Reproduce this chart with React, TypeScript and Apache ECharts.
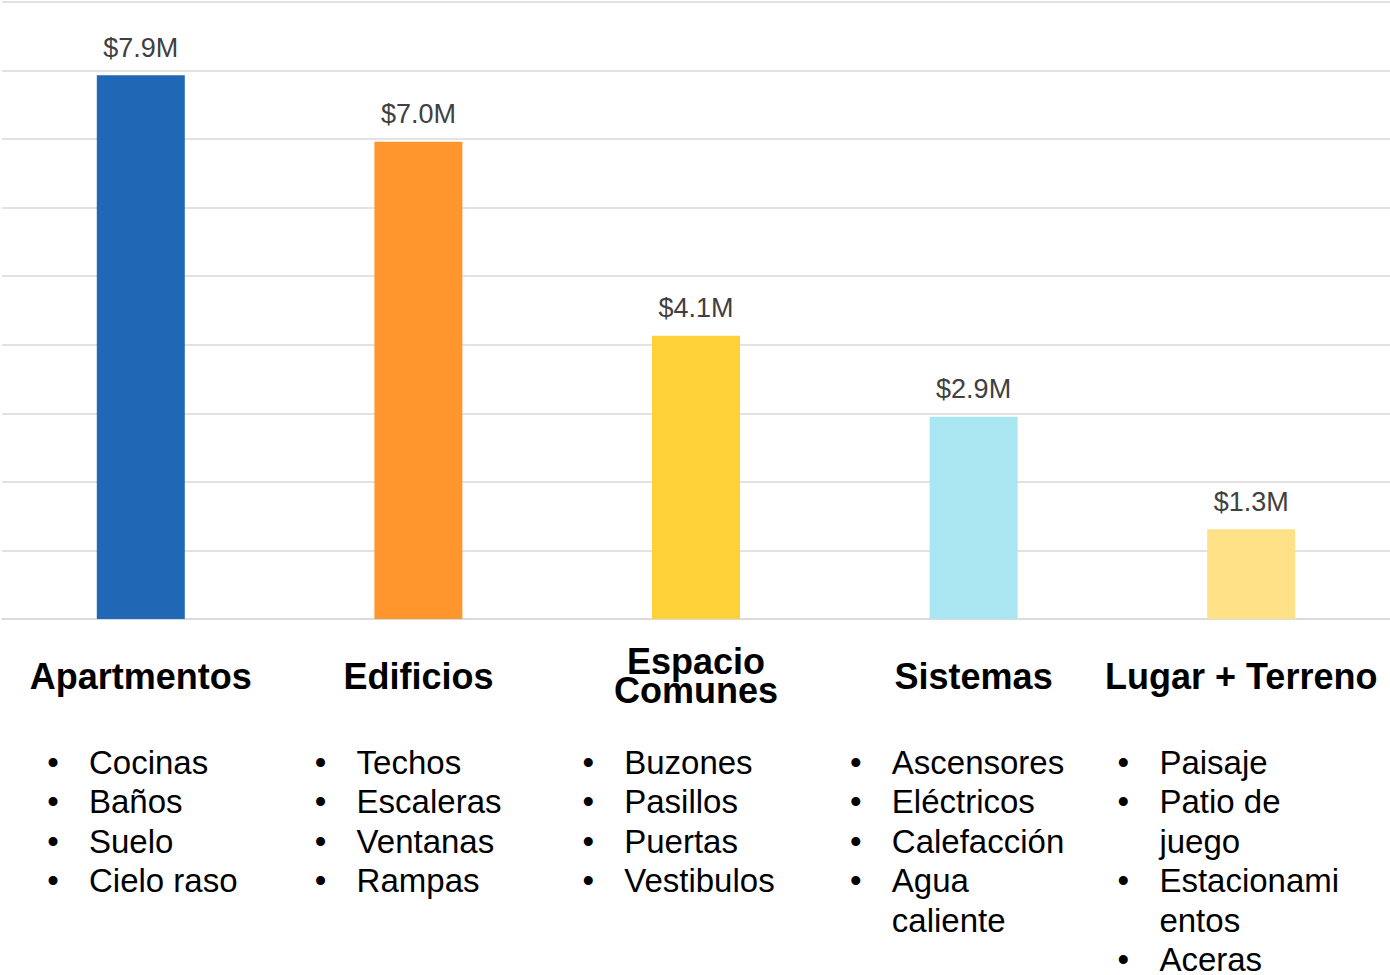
import React, { useEffect, useRef } from "react";
import * as echarts from "echarts";

const categories = ["Apartmentos", "Edificios", "Espacio Comunes", "Sistemas", "Lugar + Terreno"];
const values = [7.93, 6.96, 4.13, 2.95, 1.31];
const valueLabels = ["$7.9M", "$7.0M", "$4.1M", "$2.9M", "$1.3M"];
const barColors = ["#2068B6", "#FF962D", "#FFD23A", "#AAE6F1", "#FFE187"];
const bulletLists = [
  ["Cocinas", "Baños", "Suelo", "Cielo raso"],
  ["Techos", "Escaleras", "Ventanas", "Rampas"],
  ["Buzones", "Pasillos", "Puertas", "Vestibulos"],
  ["Ascensores", "Eléctricos", "Calefacción", "Agua\ncaliente"],
  ["Paisaje", "Patio de\njuego", "Estacionami\nentos", "Aceras"],
];

const FONT = "'Liberation Sans', Arial, Helvetica, sans-serif";

export default function App() {
  const ref = useRef<HTMLDivElement>(null);
  useEffect(() => {
    if (!ref.current) return;
    const chart = echarts.init(ref.current, undefined, { renderer: "svg" });

    const graphics: any[] = [];
    const colStep = 267.6;
    const lineStep = 39.5;
    bulletLists.forEach((items, i) => {
      let row = 0;
      items.forEach((item) => {
        const lines = item.split("\n");
        graphics.push({
          type: "text",
          x: 53 + i * colStep,
          y: 762 + row * lineStep,
          style: {
            text: "•",
            font: `33px ${FONT}`,
            fill: "#000000",
            textAlign: "center",
            textVerticalAlign: "middle",
          },
        });
        lines.forEach((ln) => {
          graphics.push({
            type: "text",
            x: 89 + i * colStep,
            y: 762 + row * lineStep,
            style: {
              text: ln,
              font: `33px ${FONT}`,
              fill: "#000000",
              textAlign: "left",
              textVerticalAlign: "middle",
            },
          });
          row++;
        });
      });
    });

    chart.setOption({
      animation: false,
      backgroundColor: "#ffffff",
      grid: {
        left: 2,
        right: 0,
        top: 2,
        bottom: 356,
        containLabel: false,
        outerBoundsMode: "none",
      },
      xAxis: {
        type: "category",
        data: categories,
        axisLine: { show: true, lineStyle: { color: "#d9d9d9", width: 1.5 } },
        axisTick: { show: false },
        axisLabel: {
          interval: 0,
          margin: 57,
          verticalAlign: "middle",
          hideOverlap: false,
          formatter: (v: string, idx: number) => {
            if (v === "Espacio Comunes") return "{t|Espacio}\n{t|Comunes}";
            if (idx === categories.length - 1) return `{t|${v}}{s|}`;
            return `{t|${v}}`;
          },
          rich: {
            t: {
              fontFamily: FONT,
              fontSize: 36,
              fontWeight: "bold",
              color: "#000000",
              lineHeight: 29,
            },
            s: { width: 20, lineHeight: 29 },
          },
        },
      },
      yAxis: {
        type: "value",
        min: 0,
        max: 9,
        interval: 1,
        axisLabel: { show: false },
        axisLine: { show: false },
        axisTick: { show: false },
        splitLine: { show: true, lineStyle: { color: "#d9d9d9", width: 1.5 } },
      },
      series: [
        {
          type: "bar",
          barWidth: 88,
          data: values.map((v, i) => ({ value: v, itemStyle: { color: barColors[i] } })),
          label: {
            show: true,
            position: "top",
            distance: 14,
            fontFamily: FONT,
            fontSize: 27,
            color: "#404040",
            formatter: (p: any) => valueLabels[p.dataIndex],
          },
        },
      ],
      graphic: graphics,
    });
    return () => chart.dispose();
  }, []);
  return (
    <div
      ref={ref}
      style={{ position: "absolute", left: 0, top: 0, width: 1390, height: 975 }}
    />
  );
}
